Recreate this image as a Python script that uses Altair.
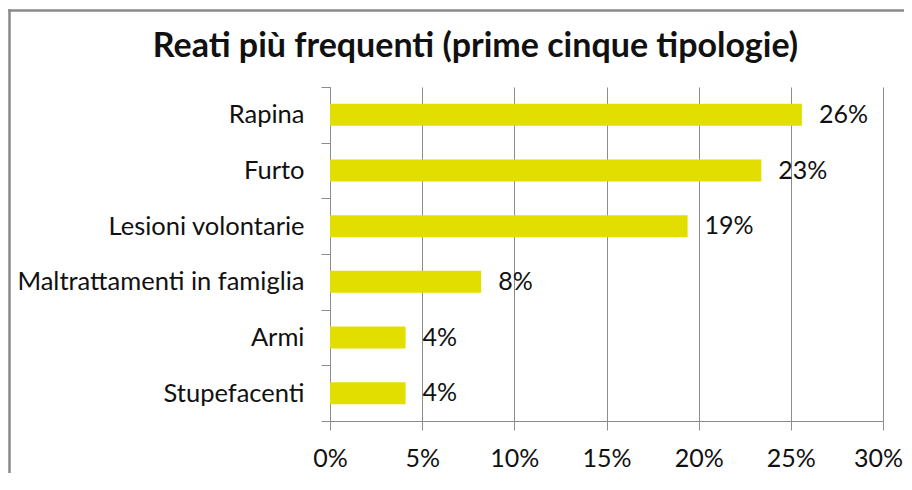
import altair as alt
import pandas as pd

categories = ["Rapina", "Furto", "Lesioni volontarie", "Maltrattamenti in famiglia", "Armi", "Stupefacenti"]
values = [25.6, 23.4, 19.4, 8.2, 4.1, 4.1]
labels = ["26%", "23%", "19%", "8%", "4%", "4%"]
x_ticks = [0, 5, 10, 15, 20, 25, 30]
title_text = "Reati più frequenti (prime cinque tipologie)"

df = pd.DataFrame({"categoria": categories, "valore": values, "etichetta": labels})

W, H = 553, 334
FONT = "Lato"
GREY = "#8c8c8c"
INK = "#111111"

y_enc = alt.Y("categoria:N", sort=categories, title=None,
              scale=alt.Scale(paddingInner=0, paddingOuter=0),
              axis=alt.Axis(tickBand="extent", labelFont=FONT, labelFontSize=25.5,
                            labelColor=INK, labelPadding=17, tickSize=9,
                            tickColor=GREY, domainColor=GREY, labelLimit=400))
x_enc = alt.X("valore:Q", title=None,
              scale=alt.Scale(domain=[0, 30], nice=False),
              axis=alt.Axis(values=x_ticks, labelExpr="datum.value + '%'", grid=True,
                            gridColor=GREY, domainColor=GREY, tickColor=GREY, tickSize=9,
                            labelFont=FONT, labelFontSize=25, labelColor=INK,
                            labelPadding=16, labelFlush=False,
                            labelOffset={"condition": {"test": "datum.value == 30", "value": -5},
                                         "value": 0}))

bars = alt.Chart(df).mark_bar(color="#e2de00", size=22).encode(x=x_enc, y=y_enc)
text = alt.Chart(df).mark_text(align="left", baseline="middle", dx=17, font=FONT,
                               fontSize=25, color=INK).encode(
    x="valore:Q", y=alt.Y("categoria:N", sort=categories), text="etichetta:N")

frame_left = alt.Chart(pd.DataFrame({"a": [0]})).mark_rule(
    stroke="#8a8a8a", strokeWidth=2.5).encode(
    x=alt.value(-320.5), y=alt.value(-77.75), y2=alt.value(H + 100))
frame_top = alt.Chart(pd.DataFrame({"a": [0]})).mark_rule(
    stroke="#8a8a8a", strokeWidth=2.5).encode(
    x=alt.value(-321.75), x2=alt.value(W + 60), y=alt.value(-76.5))

title = alt.Chart(pd.DataFrame({"t": [title_text]})).mark_text(
    align="center", baseline="alphabetic", font=FONT, fontSize=34, fontWeight="bold",
    color=INK).encode(x=alt.value(145.5), y=alt.value(-30), text="t:N")

chart = alt.layer(frame_left, frame_top, bars, text, title).properties(
    width=W, height=H,
    autosize=alt.AutoSizeParams(type="none"),
    padding={"left": 322, "top": 79, "right": 21, "bottom": 52},
).configure_view(stroke=None)

chart.save("out.html", embed_options={"renderer": "svg", "actions": False})
